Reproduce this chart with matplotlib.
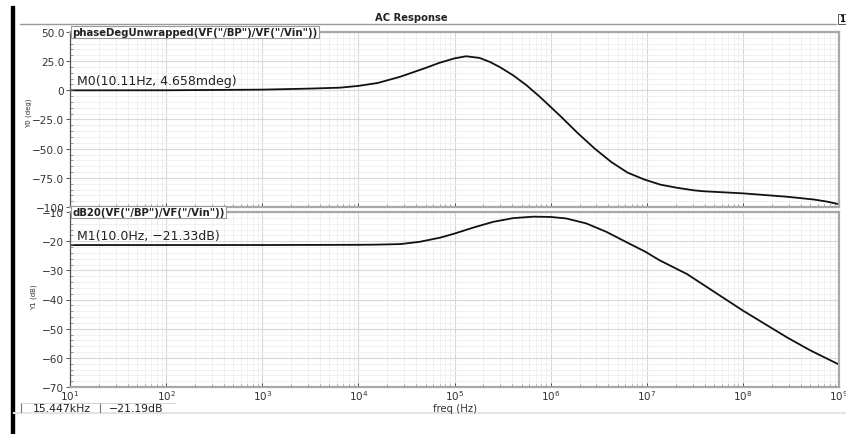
import matplotlib
matplotlib.use("Agg")
import matplotlib.pyplot as plt
from matplotlib.lines import Line2D
from matplotlib.patches import Rectangle
from matplotlib.ticker import LogLocator, AutoMinorLocator, NullFormatter, FixedLocator, FixedFormatter

# ---------------- data ----------------
phase_freq = [1e1, 1e2, 1e3, 3.162e3, 6.457e3, 1e4, 1.585e4, 2.69e4, 3.63e4, 5.01e4,
              6.92e4, 1e5, 1.318e5, 1.82e5, 2.34e5, 2.95e5, 4.07e5, 5.62e5, 7.76e5, 1e6,
              1.29e6, 1.905e6, 2.88e6, 4.27e6, 6.31e6, 9.33e6, 1.38e7, 2.09e7, 3.09e7, 3.89e7,
              1e8, 2.88e8, 5.5e8, 7.41e8, 1e9]
phase_deg = [0.005, 0.05, 0.6, 1.5, 2.3, 3.8, 6.3, 11.5, 15.2, 19.2,
             23.5, 27.4, 29.2, 27.8, 24.3, 20.0, 12.9, 4.3, -5.7, -14.2,
             -22.8, -36.5, -50.0, -61.4, -70.5, -76.3, -80.8, -83.6, -85.7, -86.5,
             -88.3, -91.2, -93.6, -95.3, -97.6]

mag_freq = [1e1, 1e2, 1e3, 1e4, 1.5447e4, 2.75e4, 4.37e4, 7.08e4, 1e5, 1.585e5,
            2.51e5, 4.07e5, 6.61e5, 1e6, 1.445e6, 2.34e6, 3.8e6, 6.03e6, 9.77e6, 1.35e7,
            2.63e7, 1e8, 2.88e8, 5e8, 1e9]
mag_db = [-21.33, -21.33, -21.32, -21.25, -21.19, -21.0, -20.2, -18.8, -17.4, -15.3,
          -13.4, -12.1, -11.6, -11.7, -12.2, -13.9, -16.8, -20.2, -23.7, -26.5,
          -31.3, -43.8, -53.0, -57.4, -62.3]

freq_ticks = [1e1, 1e2, 1e3, 1e4, 1e5, 1e6, 1e7, 1e8, 1e9]
freq_ticklabels = ["$10^{1}$", "$10^{2}$", "$10^{3}$", "$10^{4}$", "$10^{5}$",
                   "$10^{6}$", "$10^{7}$", "$10^{8}$", "$10^{9}$"]
phase_ticks = [50, 25, 0, -25, -50, -75, -100]
phase_ticklabels = ["50.0", "25.0", "0", "\u221225.0", "\u221250.0", "\u221275.0", "\u2212100"]
mag_ticks = [-10, -20, -30, -40, -50, -60, -70]
mag_ticklabels = ["\u221210", "\u221220", "\u221230", "\u221240", "\u221250", "\u221260", "\u221270"]

title = "AC Response"
phase_trace = 'phaseDegUnwrapped(VF("/BP")/VF("/Vin"))'
mag_trace = 'dB20(VF("/BP")/VF("/Vin"))'
m0_label = "M0(10.11Hz, 4.658mdeg)"
m0_point = (10.11, 0.004658)
m1_label = "M1(10.0Hz, \u221221.33dB)"
m1_point = (10.0, -21.33)
cursor_x = "15.447kHz"
cursor_y = "\u221221.19dB"

# ---------------- figure ----------------
W, H = 846, 435
fig = plt.figure(figsize=(W / 100, H / 100), dpi=100)
fig.patch.set_facecolor("white")
plt.rcParams['font.family'] = ['DejaVu Sans']

def fx(px):
    return px / W

def fy(py):
    return 1 - py / H

L, R = 70, 839
ax1 = fig.add_axes([fx(L), fy(208), fx(R - L), (208 - 33) / H])
ax2 = fig.add_axes([fx(L), fy(388), fx(R - L), (388 - 213) / H])

tick_col = "#333333"
for ax in (ax1, ax2):
    ax.set_xscale("log")
    ax.set_xlim(1e1, 1e9)
    ax.xaxis.set_major_locator(FixedLocator(freq_ticks))
    ax.xaxis.set_major_formatter(FixedFormatter(freq_ticklabels))
    ax.xaxis.set_minor_locator(LogLocator(base=10, subs=[2, 3, 4, 5, 6, 7, 8, 9], numticks=100))
    ax.xaxis.set_minor_formatter(NullFormatter())
    ax.yaxis.set_minor_locator(AutoMinorLocator(5))
    ax.grid(True, which="major", color="#d8d8d8", lw=0.8)
    ax.grid(True, which="minor", color="#eeeeee", lw=0.6)
    ax.set_axisbelow(True)
    for s in ("top", "right", "bottom"):
        ax.spines[s].set_color("#a8a8a8")
        ax.spines[s].set_linewidth(1.6)
    ax.spines["left"].set_color("#555555")
    ax.spines["left"].set_linewidth(0.9)
    ax.tick_params(axis="y", which="major", direction="out", length=3, width=0.6,
                   colors=tick_col, labelsize=7.6, pad=1)
    ax.tick_params(axis="y", which="minor", direction="in", length=2, width=0.5, colors="#777777")
    ax.tick_params(axis="x", which="major", direction="in", length=3, width=0.6,
                   colors=tick_col, labelsize=7.5, pad=1)
    ax.tick_params(axis="x", which="minor", direction="in", length=2, width=0.5, colors="#777777")

ax1.plot(phase_freq, phase_deg, color="#111111", lw=1.3)
ax1.set_ylim(-100, 50)
ax1.yaxis.set_major_locator(FixedLocator(phase_ticks))
ax1.yaxis.set_major_formatter(FixedFormatter(phase_ticklabels))
ax1.tick_params(axis="x", labelbottom=False)

ax2.plot(mag_freq, mag_db, color="#111111", lw=1.3)
ax2.set_ylim(-70, -10)
ax2.yaxis.set_major_locator(FixedLocator(mag_ticks))
ax2.yaxis.set_major_formatter(FixedFormatter(mag_ticklabels))

# trace name tabs
for ax, name in ((ax1, phase_trace), (ax2, mag_trace)):
    ax.text(0.003, 1.0, name, transform=ax.transAxes, ha="left", va="center",
            fontsize=7.3, fontweight="bold", color="#222222", zorder=10,
            bbox=dict(boxstyle="square,pad=0.12", fc="white", ec="#9a9a9a", lw=0.8))

# markers
for ax, lab, pt in ((ax1, m0_label, m0_point), (ax2, m1_label, m1_point)):
    ax.annotate(lab, xy=pt, xytext=(7, 3), textcoords="offset pixels",
                ha="left", va="bottom", fontsize=9, color="#222222",
                arrowprops=dict(arrowstyle="-", color="#777777", lw=0.6,
                                shrinkA=0, shrinkB=0))

# axis labels
fig.text(fx(29), fy(113), "Y0 (deg)", rotation=90, ha="center", va="center",
         fontsize=5, color="#333333")
fig.text(fx(34), fy(297), "Y1 (dB)", rotation=90, ha="center", va="center",
         fontsize=5, color="#333333")
fig.text(fx(455), fy(409), "freq (Hz)", ha="center", va="center",
         fontsize=7.3, color="#333333")

# title and header
fig.text(fx(411), fy(18), title, ha="center", va="center", fontsize=7.2,
         fontweight="bold", color="#222222")
fig.add_artist(Line2D([fx(20), fx(836)], [fy(25), fy(25)], color="#9a9a9a", lw=1.0))
fig.text(fx(842), fy(20), "1", ha="center", va="center", fontsize=6, fontweight="bold",
         bbox=dict(boxstyle="square,pad=0.1", fc="white", ec="#555555", lw=0.7))

# left window bar
fig.add_artist(Rectangle((fx(11), 0), 3 / W, fy(7), color="black",
                         transform=fig.transFigure))

# cursor readout
fig.add_artist(Line2D([fx(14), fx(846)], [fy(414), fy(414)], color="#e4e4e4", lw=1.5))
fig.add_artist(Line2D([fx(21), fx(21)], [fy(404), fy(413)], color="#777777", lw=0.8))
fig.add_artist(Line2D([fx(100), fx(100)], [fy(404), fy(413)], color="#777777", lw=0.8))
fig.add_artist(Line2D([fx(21), fx(175)], [fy(404), fy(404)], color="#cccccc", lw=0.6))
fig.text(fx(62), fy(409.5), cursor_x, ha="center", va="center", fontsize=7.8, color="#222222")
fig.text(fx(109), fy(409.5), cursor_y, ha="left", va="center", fontsize=7.8, color="#222222")

fig.savefig("out.png", dpi=100, facecolor="white")
